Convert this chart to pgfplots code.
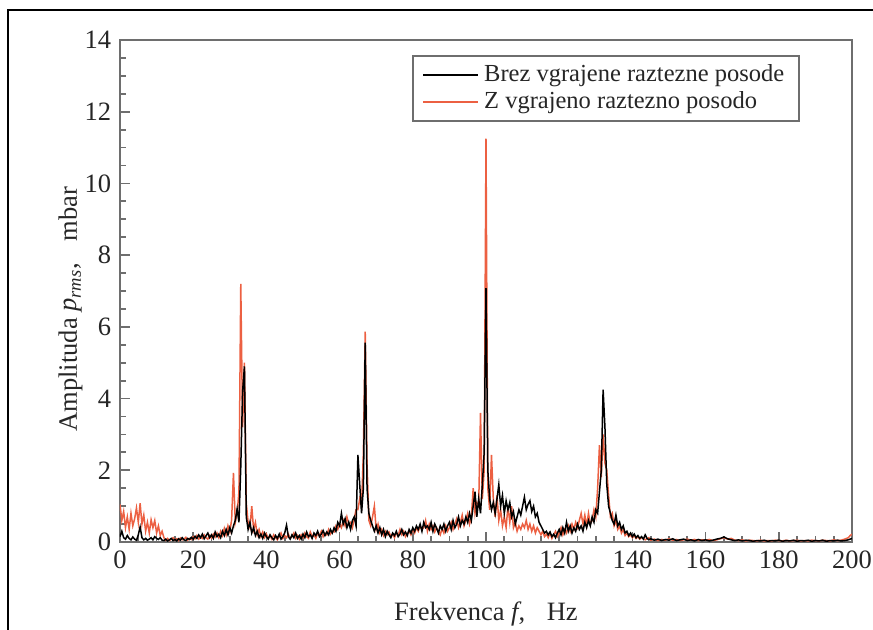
\documentclass[border=0pt]{standalone}
\usepackage{pgfplots}
\pgfplotsset{compat=1.18}
\usepackage{pgfplotstable}
\usepackage{fontspec}
\setmainfont{Liberation Serif}
\definecolor{redline}{RGB}{236,96,66}
\definecolor{axgray}{RGB}{110,110,110}
\newcommand\lbl{\fontsize{10.6}{12.6}\selectfont}
\newcommand\lgd{\fontsize{9.8}{11}\selectfont}

% f [Hz], b = without expansion vessel, r = with expansion vessel [mbar]
\pgfplotstableread{
f b r
0.0 0.15 1.05
0.5 0.30 0.60
1.0 0.12 0.85
1.5 0.08 0.40
2.0 0.18 0.70
2.5 0.10 0.35
3.0 0.06 0.80
3.5 0.14 0.45
4.0 0.08 0.65
4.5 0.05 0.95
5.0 0.20 0.55
5.5 0.42 1.08
6.0 0.12 0.50
6.5 0.06 0.75
7.0 0.10 0.30
7.5 0.05 0.55
8.0 0.08 0.25
8.5 0.12 0.62
9.0 0.06 0.40
9.5 0.15 0.60
10.0 0.10 0.25
10.5 0.07 0.45
11.0 0.12 0.18
11.5 0.05 0.30
12.0 0.04 0.12
12.5 0.08 0.05
13.0 0.03 0.10
13.5 0.06 0.04
14.0 0.10 0.08
14.5 0.04 0.12
15.0 0.07 0.05
15.5 0.03 0.09
16.0 0.09 0.04
16.5 0.05 0.11
17.0 0.12 0.06
17.5 0.06 0.08
18.0 0.04 0.13
18.5 0.10 0.05
19.0 0.07 0.10
19.5 0.13 0.07
20.0 0.08 0.15
20.5 0.16 0.09
21.0 0.10 0.18
21.5 0.20 0.08
22.0 0.12 0.14
22.5 0.22 0.10
23.0 0.09 0.20
23.5 0.17 0.12
24.0 0.25 0.08
24.5 0.12 0.18
25.0 0.20 0.11
25.5 0.10 0.22
26.0 0.28 0.14
26.5 0.15 0.25
27.0 0.22 0.12
27.5 0.12 0.30
28.0 0.30 0.18
28.5 0.18 0.38
29.0 0.35 0.20
29.5 0.20 0.45
30.0 0.40 0.28
30.5 0.25 0.62
31.0 0.45 1.93
31.5 0.60 0.55
32.0 0.92 0.80
32.5 0.55 1.40
33.0 2.10 7.20
33.5 4.20 3.20
34.0 4.90 5.00
34.5 0.70 1.10
35.0 0.35 0.55
35.5 0.55 0.40
36.0 0.25 1.00
36.5 0.40 0.35
37.0 0.18 0.55
37.5 0.30 0.20
38.0 0.12 0.35
38.5 0.22 0.15
39.0 0.10 0.28
39.5 0.25 0.12
40.0 0.15 0.22
40.5 0.08 0.10
41.0 0.20 0.18
41.5 0.12 0.08
42.0 0.06 0.20
42.5 0.18 0.12
43.0 0.10 0.06
43.5 0.22 0.15
44.0 0.08 0.25
44.5 0.15 0.10
45.0 0.25 0.18
45.5 0.47 0.12
46.0 0.15 0.22
46.5 0.08 0.10
47.0 0.20 0.15
47.5 0.12 0.25
48.0 0.25 0.10
48.5 0.10 0.18
49.0 0.18 0.08
49.5 0.08 0.20
50.0 0.22 0.12
50.5 0.12 0.25
51.0 0.28 0.15
51.5 0.15 0.10
52.0 0.20 0.28
52.5 0.10 0.15
53.0 0.25 0.20
53.5 0.18 0.10
54.0 0.30 0.25
54.5 0.15 0.18
55.0 0.22 0.30
55.5 0.32 0.15
56.0 0.18 0.25
56.5 0.28 0.20
57.0 0.20 0.35
57.5 0.35 0.22
58.0 0.25 0.30
58.5 0.40 0.28
59.0 0.30 0.45
59.5 0.55 0.35
60.0 0.45 0.50
60.5 0.80 0.40
61.0 0.50 0.60
61.5 0.65 0.45
62.0 0.40 0.70
62.5 0.55 0.50
63.0 0.35 0.55
63.5 0.60 0.40
64.0 0.70 0.65
64.5 0.45 0.90
65.0 2.43 0.90
65.5 1.60 1.20
66.0 0.80 1.00
66.5 1.50 2.50
67.0 5.56 5.87
67.5 1.50 2.20
68.0 0.80 0.60
68.5 0.60 0.45
69.0 0.45 0.70
69.5 0.30 1.00
70.0 0.45 0.35
70.5 0.25 0.50
71.0 0.40 0.25
71.5 0.20 0.35
72.0 0.35 0.18
72.5 0.15 0.30
73.0 0.30 0.20
73.5 0.20 0.28
74.0 0.12 0.15
74.5 0.25 0.22
75.0 0.18 0.12
75.5 0.30 0.25
76.0 0.15 0.18
76.5 0.22 0.35
77.0 0.35 0.20
77.5 0.20 0.30
78.0 0.28 0.15
78.5 0.18 0.25
79.0 0.35 0.30
79.5 0.25 0.20
80.0 0.40 0.35
80.5 0.30 0.25
81.0 0.45 0.40
81.5 0.35 0.30
82.0 0.50 0.45
82.5 0.30 0.35
83.0 0.55 0.40
83.5 0.40 0.60
84.0 0.45 0.30
84.5 0.35 0.50
85.0 0.55 0.35
85.5 0.30 0.45
86.0 0.50 0.28
86.5 0.38 0.40
87.0 0.25 0.30
87.5 0.45 0.20
88.0 0.35 0.38
88.5 0.50 0.25
89.0 0.30 0.45
89.5 0.45 0.30
90.0 0.55 0.40
90.5 0.35 0.55
91.0 0.60 0.35
91.5 0.40 0.50
92.0 0.50 0.65
92.5 0.70 0.40
93.0 0.45 0.55
93.5 0.60 0.75
94.0 0.50 0.45
94.5 0.70 0.60
95.0 0.55 0.80
95.5 0.80 0.50
96.0 0.60 0.70
96.5 1.00 1.50
97.0 1.40 0.80
97.5 0.70 1.10
98.0 1.20 1.00
98.5 0.80 3.60
99.0 1.60 1.20
99.5 2.50 2.00
100.0 7.08 11.25
100.5 2.00 1.50
101.0 1.20 0.90
101.5 0.90 2.43
102.0 1.10 1.20
102.5 0.80 0.70
103.0 1.20 1.30
103.5 1.60 0.60
104.0 1.00 0.90
104.5 1.30 0.45
105.0 0.80 0.70
105.5 1.15 0.40
106.0 0.90 1.00
106.5 1.10 0.55
107.0 0.70 1.00
107.5 0.85 0.40
108.0 0.50 0.55
108.5 0.70 0.30
109.0 0.90 0.45
109.5 0.75 0.35
110.0 1.00 0.50
110.5 1.25 0.40
111.0 0.90 0.60
111.5 1.05 0.35
112.0 1.15 0.50
112.5 0.85 0.30
113.0 1.00 0.45
113.5 0.70 0.25
114.0 0.80 0.40
114.5 0.55 0.30
115.0 0.45 0.20
115.5 0.35 0.30
116.0 0.25 0.15
116.5 0.30 0.22
117.0 0.20 0.12
117.5 0.28 0.25
118.0 0.15 0.10
118.5 0.22 0.20
119.0 0.12 0.30
119.5 0.25 0.15
120.0 0.35 0.25
120.5 0.20 0.40
121.0 0.40 0.20
121.5 0.25 0.35
122.0 0.55 0.25
122.5 0.30 0.45
123.0 0.45 0.30
123.5 0.25 0.50
124.0 0.40 0.35
124.5 0.30 0.55
125.0 0.50 0.40
125.5 0.35 0.60
126.0 0.45 0.80
126.5 0.30 0.50
127.0 0.55 0.75
127.5 0.40 0.45
128.0 0.60 0.80
128.5 0.45 0.50
129.0 0.70 0.60
129.5 0.55 0.90
130.0 0.90 0.70
130.5 0.80 1.50
131.0 1.40 2.70
131.5 2.00 1.80
132.0 4.25 3.00
132.5 3.20 2.20
133.0 1.60 2.00
133.5 1.00 1.30
134.0 0.80 0.70
134.5 0.60 0.80
135.0 0.50 0.45
135.5 0.75 0.60
136.0 0.45 0.35
136.5 0.55 0.45
137.0 0.35 0.25
137.5 0.45 0.35
138.0 0.25 0.18
138.5 0.30 0.25
139.0 0.18 0.15
139.5 0.25 0.20
140.0 0.15 0.12
140.5 0.22 0.18
141.0 0.12 0.10
141.5 0.18 0.15
142.0 0.10 0.08
142.5 0.15 0.12
143.0 0.08 0.10
143.5 0.20 0.06
144.0 0.10 0.09
144.5 0.06 0.12
145.0 0.09 0.05
146 0.05 0.08
147 0.08 0.04
148 0.04 0.07
149 0.07 0.05
150 0.05 0.09
151 0.09 0.05
152 0.04 0.07
153 0.06 0.04
154 0.08 0.06
155 0.04 0.08
156 0.06 0.05
157 0.03 0.07
158 0.07 0.04
159 0.04 0.06
160 0.06 0.05
161 0.03 0.07
162 0.05 0.04
163 0.08 0.06
164 0.10 0.09
165 0.14 0.12
166 0.09 0.08
167 0.06 0.10
168 0.04 0.05
169 0.06 0.04
170 0.03 0.06
171 0.05 0.03
172 0.04 0.05
173 0.02 0.04
174 0.04 0.03
175 0.03 0.05
176 0.05 0.03
177 0.02 0.04
178 0.04 0.03
179 0.03 0.05
180 0.05 0.04
181 0.02 0.03
182 0.04 0.05
183 0.03 0.03
184 0.05 0.04
185 0.02 0.05
186 0.04 0.03
187 0.03 0.04
188 0.05 0.03
189 0.02 0.05
190 0.04 0.04
191 0.03 0.03
192 0.05 0.05
193 0.02 0.04
194 0.04 0.03
195 0.03 0.06
196 0.05 0.04
197 0.03 0.05
198 0.04 0.08
199 0.06 0.12
199.5 0.08 0.18
200 0.10 0.22
}\spectrum

\begin{document}
\begin{tikzpicture}
    % page = 873 x 630 px at 0.4 pt per px, axis box at (120..852, 40..542) px
    \path[use as bounding box] (-48pt,-35.2pt) rectangle (301.2pt,216.8pt);
    \draw[black, line width=0.7pt] (-44.8pt,-40pt) -- (-44.8pt,212.8pt) -- (305pt,212.8pt);
    \begin{axis}[
        at={(0pt,0pt)}, anchor=south west,
        scale only axis, width=292.8pt, height=200.8pt,
        xmin=0, xmax=200, ymin=0, ymax=14,
        xtick={0,20,...,200}, ytick={0,2,...,14},
        minor x tick num=3, minor y tick num=3,
        tick pos=left, tick align=inside,
        major tick length=4pt, minor tick length=2.4pt,
        axis line style={axgray, line width=0.8pt},
        tick style={axgray, line width=0.7pt},
        tick label style={font=\lbl, text=black!85},
        /pgf/number format/assume math mode=true,
        xlabel={Frekvenca \textit{f},\hspace{6pt} Hz},
        ylabel={Amplituda \textit{p}\textsubscript{\textit{rms}},\hspace{6pt} mbar},
        label style={font=\lbl, text=black!85},
        xlabel style={at={(axis description cs:0.5,0)}, anchor=base, yshift=-31.6pt},
        ylabel style={at={(axis description cs:-0.059,0.464)}, anchor=base},
        reverse legend,
        legend image code/.code={\draw[#1] (0pt,0pt) -- (22pt,0pt);},
        legend style={
            at={(axis description cs:0.3985,0.970)}, anchor=north west,
            draw=axgray, line width=0.8pt, fill=white,
            font=\lgd, text=black!85, row sep=-1.5pt,
            inner xsep=4pt, inner ysep=1.5pt},
        legend cell align={left},
    ]
    \addplot[redline, line width=0.6pt] table[x=f, y=r]{\spectrum};
    \addlegendentry{Z vgrajeno raztezno posodo}
    \addplot[black, line width=0.6pt] table[x=f, y=b]{\spectrum};
    \addlegendentry{Brez vgrajene raztezne posode\hspace{6pt}}
    \end{axis}
\end{tikzpicture}
\end{document}
